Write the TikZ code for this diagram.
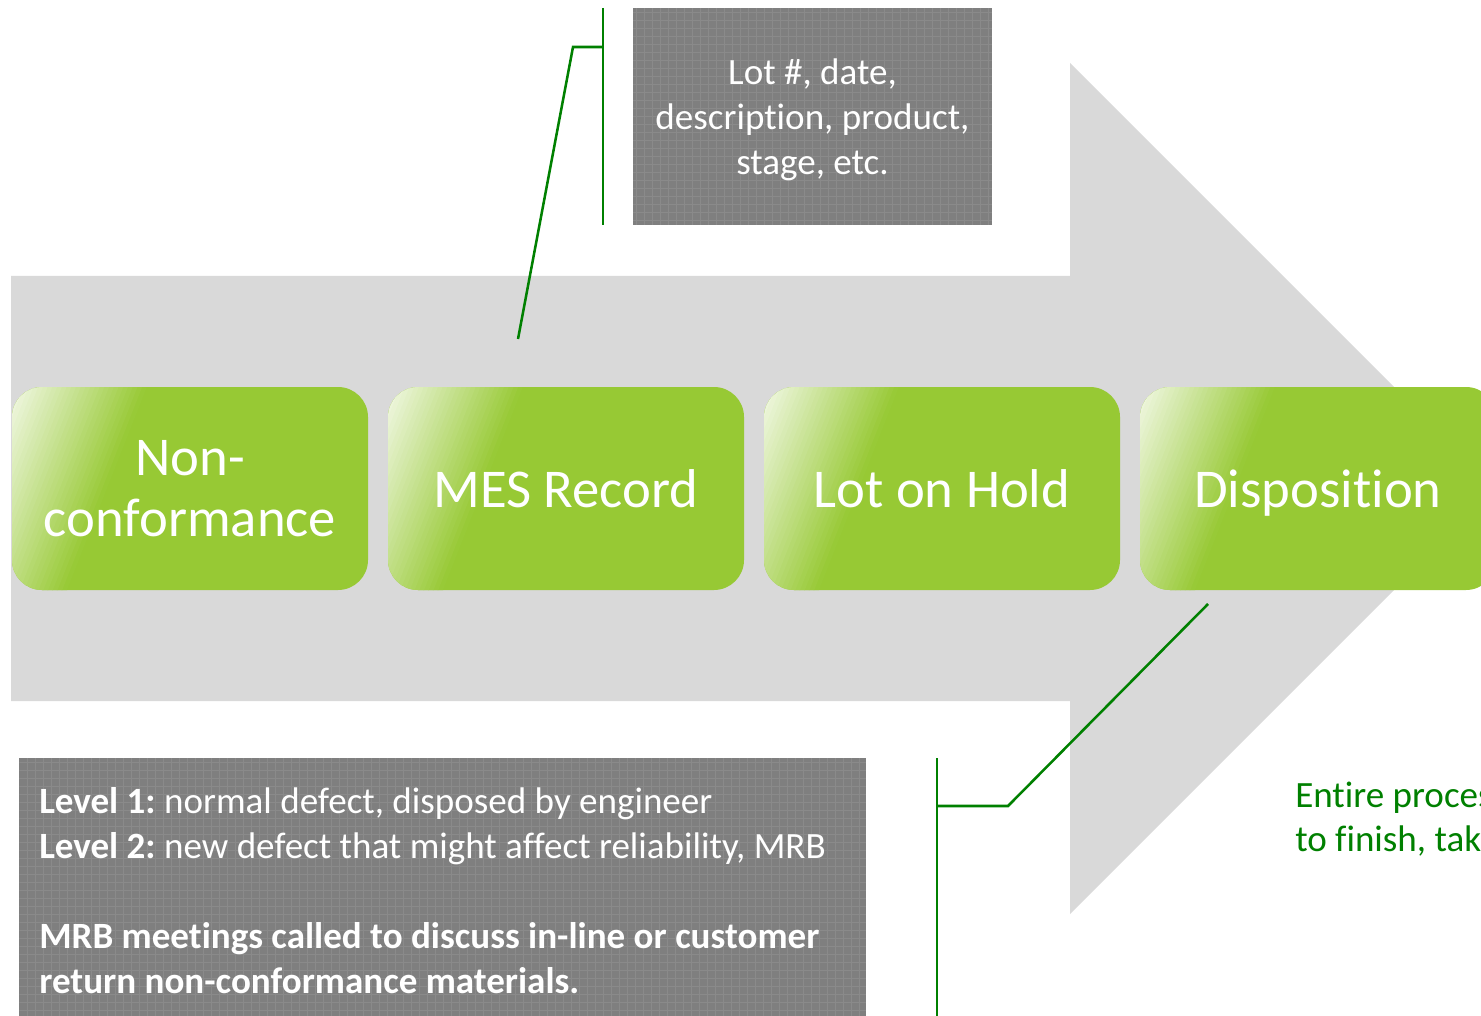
\documentclass[tikz,border=0pt]{standalone}
\usepackage{fontspec}
\setmainfont{Carlito}[Ligatures=NoCommon]
\usetikzlibrary{calc}

\definecolor{boxgreen}{HTML}{97C934}
\definecolor{arrowgray}{HTML}{D9D9D9}
\definecolor{notegray}{HTML}{7F7F7F}
\definecolor{leadgreen}{HTML}{008000}

\begin{document}
\frenchspacing
\begin{tikzpicture}[x=0.75pt,y=-0.75pt,
  % glossy highlight in the upper-left corner of a stage box
  gloss/.style={path picture={
    \foreach \i in {0,...,29}{
      \pgfmathsetmacro{\da}{\i*4.4}
      \pgfmathsetmacro{\db}{\i*4.4+5}
      \pgfmathsetmacro{\mix}{100-min(88,(\i*4.4+2.2)/126*88)}
      \fill[boxgreen!\mix!white]
        ($(path picture bounding box.north west)+(157-0.930*\da,-56-0.367*\da)$) --
        ($(path picture bounding box.north west)+(33-0.930*\da,259-0.367*\da)$) --
        ($(path picture bounding box.north west)+(33-0.930*\db,259-0.367*\db)$) --
        ($(path picture bounding box.north west)+(157-0.930*\db,-56-0.367*\db)$) -- cycle;
    }
  }},
  % fine woven texture of the note panels
  weave/.style={path picture={
    \draw[white, opacity=0.09, line width=0.4pt, step=6pt]
      (path picture bounding box.south west) grid
      (path picture bounding box.north east);
  }},
  stagebox/.style={rectangle, rounded corners=22.5pt, fill=boxgreen, gloss,
    minimum width=267pt, minimum height=152.25pt, inner sep=0pt,
    text=white, align=center, font=\fontsize{41}{45.75}\selectfont},
  notebox/.style={rectangle, fill=notegray, weave, inner sep=0pt},
  notetext/.style={text=white, inner sep=0pt,
    font=\fontsize{27.8}{33.75}\selectfont},
  lead/.style={draw=leadgreen, line width=1.9pt},
]
\useasboundingbox (0,0) rectangle (1481,1016);
\clip (0,0) rectangle (1481,1016);

% the broad process arrow
\fill[arrowgray] (11,276) -- (1070,276) -- (1070,63) -- (1495.5,488.5)
  -- (1070,914) -- (1070,701) -- (11,701) -- cycle;

% process stages
\node[stagebox] (nc)   at (190,488.5)  {Non-\\conformance};
\node[stagebox] (mes)  at (566,488.5)  {MES Record};
\node[stagebox] (hold) at (942,488.5)  {Lot on Hold};
\node[stagebox, text depth=0pt] (disp) at (1318,488.5) {Disposition};

% note on the record contents
\node[notebox, minimum width=269.25pt, minimum height=162.75pt]
  (attr) at (812.5,116.5) {};
\node[notetext, align=center] (attrtext) at (812.5,120)
  {Lot \#, date,\\description, product,\\stage, etc.};

% note on the disposition levels
\node[notebox, anchor=north west, minimum width=635.25pt, minimum height=198pt]
  (levels) at (19,758) {};
\node[notetext, anchor=west, align=left] (levtext) at ($(levels.west)+(20,0)$)
  {\textbf{Level 1:} normal defect, disposed by engineer\\
   \textbf{Level 2:} new defect that might affect reliability, MRB\\[33.75pt]
   \textbf{MRB meetings called to discuss in-line or customer}\\
   \textbf{return non-conformance materials.}};

% duration remark
\node[anchor=west, align=left, text=leadgreen, inner sep=0pt,
  font=\fontsize{27.8}{33}\selectfont] (span) at (1295,819)
  {Entire process\\to finish, takes};

% callout bracket for the record note
\coordinate (ta) at (603,8);
\coordinate (tb) at (603,225);
\coordinate (tc) at (603,47);
\coordinate (td) at (573,47);
\coordinate (te) at (518,339);
\draw[lead] (ta) -- (tb);
\draw[lead] (tc) -- (td) -- (te);

% callout bracket for the level note
\coordinate (ba) at (937,758);
\coordinate (bb) at (937,1020);
\coordinate (bc) at (937,806);
\coordinate (bd) at (1008,806);
\coordinate (be) at (1208,604);
\draw[lead] (ba) -- (bb);
\draw[lead] (bc) -- (bd) -- (be);
\end{tikzpicture}
\end{document}
